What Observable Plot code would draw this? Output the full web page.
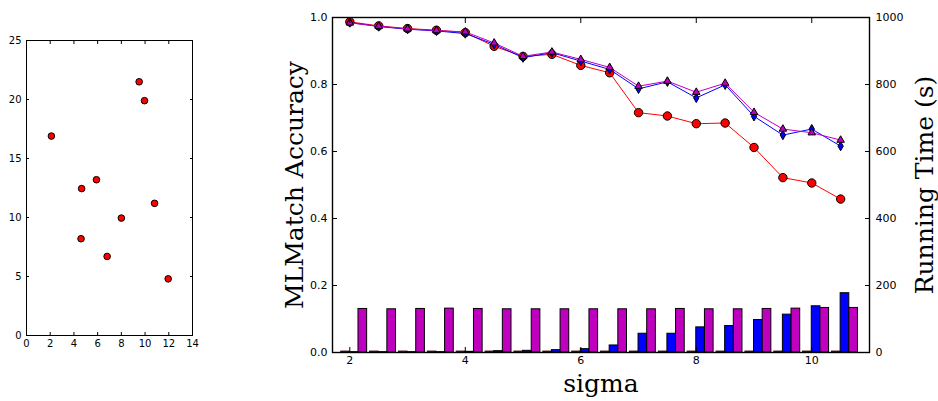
<!DOCTYPE html>
<html><head><meta charset="utf-8">
<script src="https://cdn.jsdelivr.net/npm/d3@7"></script>
<script src="https://cdn.jsdelivr.net/npm/@observablehq/plot@0.6"></script>
<style>
body{margin:0;background:#fff;}
#wrap{position:relative;width:938px;height:401px;overflow:hidden;}
#wrap svg{position:absolute;top:0;max-width:none;}
</style></head><body><div id="wrap"></div>
<script>
// ---- left scatter panel ----
const scatterX = [2.1, 4.65, 4.6, 5.9, 6.8, 8.0, 9.5, 9.95, 10.8, 11.95];
const scatterY = [16.9, 12.45, 8.2, 13.2, 6.7, 9.95, 21.5, 19.9, 11.2, 4.8];
const leftXTicks = [0, 2, 4, 6, 8, 10, 12, 14];
const leftYTicks = [0, 5, 10, 15, 20, 25];

// ---- right panel ----
const sigma = [2, 2.5, 3, 3.5, 4, 4.5, 5, 5.5, 6, 6.5, 7, 7.5, 8, 8.5, 9, 9.5, 10, 10.5];
const accRed     = [0.987, 0.975, 0.967, 0.962, 0.955, 0.914, 0.884, 0.890, 0.857, 0.835, 0.716, 0.706, 0.683, 0.685, 0.612, 0.522, 0.506, 0.458];
const accBlue    = [0.985, 0.973, 0.965, 0.960, 0.952, 0.920, 0.880, 0.895, 0.870, 0.845, 0.787, 0.808, 0.760, 0.799, 0.705, 0.649, 0.667, 0.616];
const accMagenta = [0.984, 0.974, 0.966, 0.961, 0.957, 0.924, 0.884, 0.897, 0.875, 0.851, 0.795, 0.810, 0.777, 0.804, 0.717, 0.667, 0.656, 0.634];
const timeRed     = [3, 3, 3, 3, 3, 3, 3, 3, 3, 3, 3, 3, 3, 3, 3, 3, 3, 3];
const timeBlue    = [1, 1, 1, 1, 2, 4, 5, 7, 10, 21, 56, 56, 75, 79, 97, 113, 138, 177];
const timeMagenta = [130, 129, 130, 131, 130, 129, 129, 129, 129, 129, 129, 130, 129, 129, 130, 131, 133, 133];
const rightXTicks = [2, 4, 6, 8, 10];
const accTicks = [0, 0.2, 0.4, 0.6, 0.8, 1.0];
const timeTicks = [0, 200, 400, 600, 800, 1000];
const xLabel = "sigma";
const yLabelLeft = "MLMatch Accuracy";
const yLabelRight = "Running Time (s)";

const RED = "#ff0000", BLUE = "#0000ff", MAG = "#bf00bf";
const barW = 0.15;
const wrap = document.getElementById("wrap");
const baseStyle = {fontFamily: "DejaVu Sans", background: "transparent", overflow: "visible", color: "black"};

const leftPlot = Plot.plot({
  width: 230, height: 401, marginLeft: 26, marginRight: 38, marginTop: 40, marginBottom: 66,
  style: {...baseStyle, fontSize: "10px"},
  x: {domain: [0, 14]}, y: {domain: [0, 25]},
  marks: [
    Plot.frame({stroke: "black", strokeWidth: 1}),
    Plot.axisX(leftXTicks, {anchor: "bottom", tickSize: -3, tickPadding: 7, fontSize: 10, label: null}),
    Plot.axisX(leftXTicks, {anchor: "top", tickSize: -3, tickFormat: () => "", label: null}),
    Plot.axisY(leftYTicks, {anchor: "left", tickSize: -3, tickPadding: 8, fontSize: 10, label: null}),
    Plot.axisY(leftYTicks, {anchor: "right", tickSize: -3, tickFormat: () => "", label: null}),
    Plot.dot(scatterX, {x: scatterX, y: scatterY, r: 3.3, fill: RED, stroke: "black", strokeWidth: 1})
  ]
});
leftPlot.style.left = "0px";

const rightDims = {width: 688, height: 401, marginLeft: 82, marginRight: 69, marginTop: 17, marginBottom: 49};
const xDomain = [1.7, 11.0];

const barsPlot = Plot.plot({
  ...rightDims,
  style: {...baseStyle, fontSize: "11px"},
  x: {domain: xDomain, axis: null}, y: {domain: [0, 1000]},
  marks: [
    Plot.rectY(timeRed, {x1: sigma.map(s => s - barW), x2: sigma, y: timeRed, fill: RED, stroke: "#3a0000", strokeWidth: 0.8}),
    Plot.rectY(timeBlue, {x1: sigma, x2: sigma.map(s => s + barW), y: timeBlue, fill: BLUE, stroke: "black", strokeWidth: 1}),
    Plot.rectY(timeMagenta, {x1: sigma.map(s => s + barW), x2: sigma.map(s => s + 2 * barW), y: timeMagenta, fill: MAG, stroke: "black", strokeWidth: 1}),
    Plot.axisY(timeTicks, {anchor: "right", tickSize: -5, tickPadding: 11, fontSize: 11, tickFormat: d3.format("d"), label: null}),
    Plot.text([yLabelRight], {frameAnchor: "right", text: d => d, rotate: -90, dx: 55, textAnchor: "middle", fontSize: 25, fontFamily: "DejaVu Serif"})
  ]
});
barsPlot.style.left = "250px";

const linesPlot = Plot.plot({
  ...rightDims,
  style: {...baseStyle, fontSize: "11px"},
  x: {domain: xDomain}, y: {domain: [0, 1]},
  marks: [
    Plot.frame({stroke: "black", strokeWidth: 1.4}),
    Plot.line(accRed, {x: sigma, y: accRed, stroke: RED, strokeWidth: 1}),
    Plot.dot(accRed, {x: sigma, y: accRed, r: 4.2, fill: RED, stroke: "black", strokeWidth: 1}),
    Plot.line(accBlue, {x: sigma, y: accBlue, stroke: BLUE, strokeWidth: 1}),
    Plot.dot(accBlue, {x: sigma, y: accBlue, symbol: "diamond", r: 2.8, fill: BLUE, stroke: "black", strokeWidth: 1}),
    Plot.line(accMagenta, {x: sigma, y: accMagenta, stroke: MAG, strokeWidth: 1}),
    Plot.dot(accMagenta, {x: sigma, y: accMagenta, symbol: "triangle", r: 2.8, fill: MAG, stroke: "black", strokeWidth: 1}),
    Plot.axisX(rightXTicks, {anchor: "bottom", tickSize: -5, tickPadding: 9, fontSize: 11, label: null}),
    Plot.axisX(rightXTicks, {anchor: "top", tickSize: -5, tickFormat: () => "", label: null}),
    Plot.axisY(accTicks, {anchor: "left", tickSize: -5, tickPadding: 10, fontSize: 11, tickFormat: d3.format(".1f"), label: null}),
    Plot.text([xLabel], {frameAnchor: "bottom", text: d => d, dy: 39, fontSize: 25, fontFamily: "DejaVu Serif"}),
    Plot.text([yLabelLeft], {frameAnchor: "left", text: d => d, rotate: -90, dx: -38, textAnchor: "middle", fontSize: 25, fontFamily: "DejaVu Serif"})
  ]
});
linesPlot.style.left = "250px";

wrap.appendChild(leftPlot);
wrap.appendChild(barsPlot);
wrap.appendChild(linesPlot);
</script></body></html>
